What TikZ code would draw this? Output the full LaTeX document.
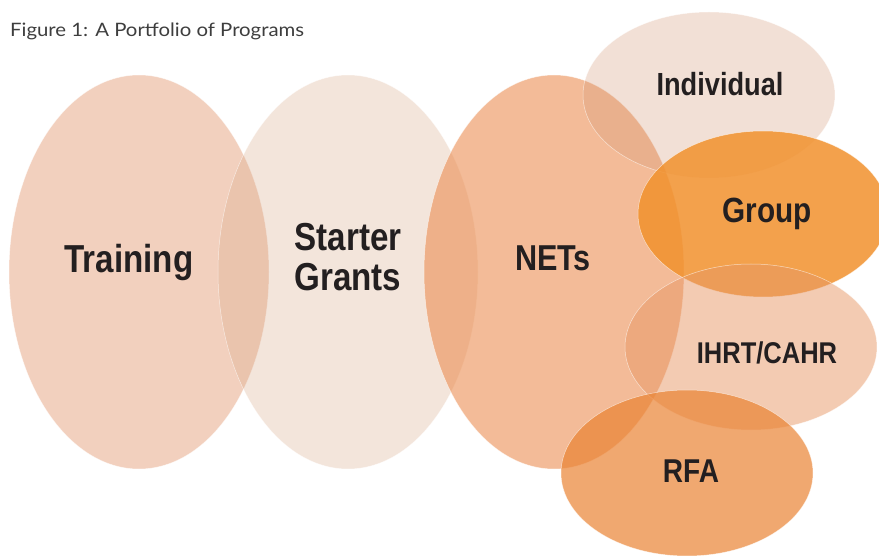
\documentclass[tikz,border=0pt]{standalone}
\usepackage{fontspec}
\setmainfont{Lato}
\newfontfamily\titlefont[FakeStretch=1.1]{Lato}
\newfontfamily\progfont[FakeStretch=0.85]{Liberation Sans}
\usetikzlibrary{positioning}

\definecolor{training}{RGB}{229,161,125}
\definecolor{starter}{RGB}{215,168,135}
\definecolor{nets}{RGB}{235,142,83}
\definecolor{indiv}{RGB}{212,152,118}
\definecolor{group}{RGB}{241,145,45}
\definecolor{ihrt}{RGB}{231,151,101}
\definecolor{rfa}{RGB}{234,131,51}
\definecolor{labeltext}{RGB}{35,31,32}
\definecolor{titletext}{RGB}{62,62,62}

\begin{document}
\begin{tikzpicture}[x=1pt, y=-1pt,
    blob/.style={draw=white, draw opacity=.6, line width=.5pt},
    prog/.style={anchor=base, align=center, text=labeltext,
      font=\progfont\bfseries\fontsize{#1}{40}\selectfont}]
  \useasboundingbox (0,0) rectangle (879,556);
  % the seven programmes
  \filldraw [blob, fill=training, fill opacity=.5] (139,272) ellipse [x radius=130, y radius=197];
  \filldraw [blob, fill=starter, fill opacity=.3] (348,272) ellipse [x radius=130, y radius=197];
  \filldraw [blob, fill=nets, fill opacity=.6] (554,272) ellipse [x radius=130, y radius=197];
  \filldraw [blob, fill=indiv, fill opacity=.3] (709,95) ellipse [x radius=126, y radius=83];
  \filldraw [blob, fill=group, fill opacity=.85] (763,214) ellipse [x radius=125, y radius=83];
  \filldraw [blob, fill=ihrt, fill opacity=.5] (751,347) ellipse [x radius=126, y radius=83];
  \filldraw [blob, fill=rfa, fill opacity=.7] (687,473) ellipse [x radius=126, y radius=83];
  % labels
  \node [prog=39] (training) at (129,273) {Training};
  \node [prog=39] (grants) at (348,291) {Grants};
  \node [prog=39] (starter) at (348,251) {Starter};
  \node [prog=36] (nets) at (553,271) {NETs};
  \node [prog=32] (individual) at (720,96) {Individual};
  \node [prog=35] (group) at (767,223) {Group};
  \node [prog=30] (ihrt) at (767,363) {IHRT/CAHR};
  \node [prog=33] (rfa) at (691,482) {RFA};
  \node [anchor=base west, inner sep=0pt, text=titletext,
    font=\titlefont\fontsize{18.5}{20}\selectfont] (title) at (10,37) {Figure 1: A Portfolio of Programs};
\end{tikzpicture}
\end{document}
